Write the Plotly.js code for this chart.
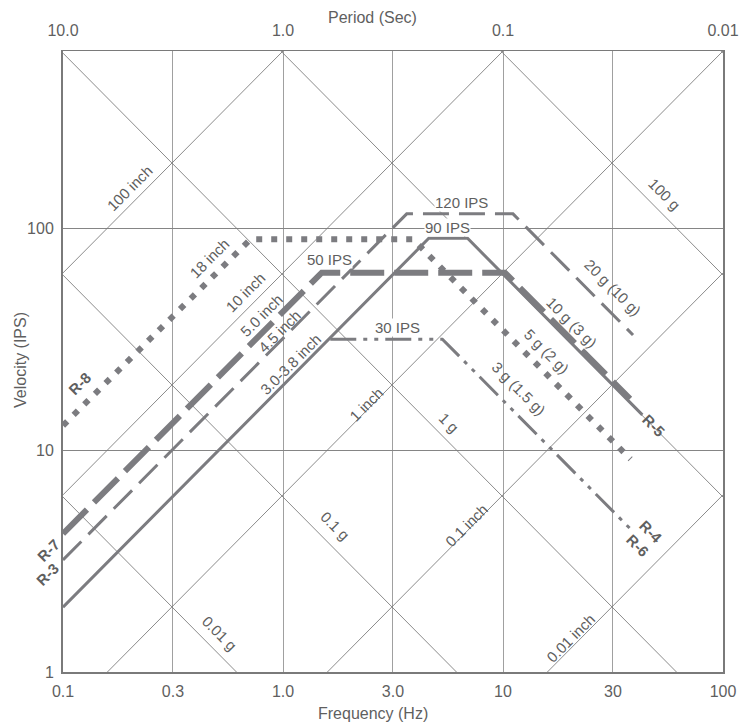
<!DOCTYPE html>
<html>
<head>
<meta charset="utf-8">
<script src="https://cdn.plot.ly/plotly-3.0.1.min.js"></script>
<style>
  html, body { margin: 0; padding: 0; background: #ffffff; }
  #chart { width: 754px; height: 723px; }
</style>
</head>
<body>
<div id="chart"></div>
<script>
// ---- Data ----
// Frequency ticks (Hz) – grid at decades and half-decades
const freqTickVals = [0.1, 0.3162, 1, 3.162, 10, 31.62, 100];
const freqTickText = ["0.1", "0.3", "1.0", "3.0", "10", "30", "100"];
const periodTickVals = [10, 1, 0.1, 0.01];
const periodTickText = ["10.0", "1.0", "0.1", "0.01"];
const velTickVals = [1, 10, 100];
const velTickText = ["1", "10", "100"];

// Tripartite diagonal grid values
const displacementInches = [0.01, 0.1, 1, 10, 100];
const accelerationG = [0.01, 0.1, 1, 10, 100, 1000];

// Series (corner points: frequency Hz, velocity IPS)
const freqR8 = [0.1, 0.71, 3.9, 38];
const velR8  = [12.9, 89, 89, 9.1];

const freqR5 = [0.1, 4.6, 6.9, 43];
const velR5  = [1.96, 90, 90, 14.4];

const freqR7 = [0.1, 1.5, 10.2, 37.8];
const velR7  = [4.2, 63, 63, 17];

const freqR3 = [0.1, 3.65, 11.1, 39];
const velR3  = [3.2, 116, 116, 33];

const freqR46 = [1.64, 5.3, 38.5];
const velR46  = [31.6, 31.6, 4.35];

// ---- Layout constants ----
const L = 63, R = 31, T = 51, B = 51, W = 754, H = 723;
const PW = W - L - R, PH = H - T - B;
const TWO_PI = 2 * Math.PI;
const G_IN = 386.09;
const VMAX = TWO_PI * 100;

const gridColor = '#7e7e7e';
const lineColor = '#7c7c80';
const textColor = '#5f5f5f';
const FONT = 'Liberation Sans, Arial, Helvetica, sans-serif';

const traces = [];

// diagonal displacement lines (slope +1)
displacementInches.forEach(d => {
  traces.push({
    x: [0.1, 100], y: [TWO_PI * 0.1 * d, TWO_PI * 100 * d],
    mode: 'lines', line: {color: gridColor, width: 0.9},
    hoverinfo: 'skip', showlegend: false
  });
});
// diagonal acceleration lines (slope -1)
accelerationG.forEach(a => {
  traces.push({
    x: [0.1, 100], y: [a * G_IN / (TWO_PI * 0.1), a * G_IN / (TWO_PI * 100)],
    mode: 'lines', line: {color: gridColor, width: 0.9},
    hoverinfo: 'skip', showlegend: false
  });
});

// data series
traces.push({x: freqR5, y: velR5, mode: 'lines', name: 'R-5',
  line: {color: lineColor, width: 3}, showlegend: false});
traces.push({x: freqR46, y: velR46, mode: 'lines', name: 'R-4 / R-6',
  line: {color: lineColor, width: 3, dash: '26px,7px,4px,7px,4px,7px'}, showlegend: false});
traces.push({x: freqR3, y: velR3, mode: 'lines', name: 'R-3',
  line: {color: lineColor, width: 3, dash: '26px,10px'}, showlegend: false});
traces.push({x: freqR7, y: velR7, mode: 'lines', name: 'R-7',
  line: {color: lineColor, width: 6, dash: '34px,10px'}, showlegend: false});
traces.push({x: freqR8, y: velR8, mode: 'lines', name: 'R-8',
  line: {color: lineColor, width: 6, dash: '6px,9px'}, showlegend: false});

// dummy trace to anchor the top period axis
traces.push({x: [1], y: [10], xaxis: 'x2', yaxis: 'y', mode: 'markers',
  marker: {opacity: 0}, hoverinfo: 'skip', showlegend: false});

// annotation helper from pixel position
function lab(text, px, py, angle, opts) {
  return Object.assign({
    text: text, xref: 'paper', yref: 'paper',
    x: (px - L) / PW, y: (H - B - py) / PH,
    xanchor: 'center', yanchor: 'middle',
    showarrow: false, textangle: angle,
    font: {family: FONT, size: 15, color: textColor}
  }, opts || {});
}
const bold = {font: {family: FONT, size: 15, color: textColor, weight: 'bold'}};
const wbg = {bgcolor: '#ffffff', borderpad: 0};
const axisFont = {family: FONT, size: 16, color: textColor};
const ttl = {font: axisFont};

const annotations = [
  lab('100 inch', 129, 188, -45),
  lab('18 inch', 209, 258, -45),
  lab('10 inch', 245, 292, -45),
  lab('5.0 inch', 261, 315, -45),
  lab('4.5 inch', 279, 331, -45),
  lab('3.0-3.8 inch', 290, 364, -45),
  lab('1 inch', 366, 404, -45),
  lab('0.1 inch', 466, 525, -45),
  lab('0.01 inch', 570, 638, -45),
  lab('100 g', 665, 194, 45),
  lab('1 g', 449, 422, 45),
  lab('0.1 g', 335, 525, 45),
  lab('0.01 g', 220, 633, 45),
  lab('50 IPS', 329, 259, 0, wbg),
  lab('120 IPS', 462, 203, 0, wbg),
  lab('90 IPS', 447, 227, 0, wbg),
  lab('30 IPS', 397, 327, 0, wbg),
  lab('20 g (10 g)', 613, 287, 45),
  lab('10 g (3 g)', 572, 322, 45),
  lab('5 g (2 g)', 547, 351, 45),
  lab('3 g (1.5 g)', 519, 388, 45),
  lab('R-8', 80, 384, -45, bold),
  lab('R-7', 48, 550, -45, bold),
  lab('R-3', 47, 574, -45, bold),
  lab('R-5', 654, 425, 45, bold),
  lab('R-4', 651, 531, 45, bold),
  lab('R-6', 638, 545, 45, bold),
  // axis titles
  lab('Period (Sec)', 372, 18, 0, ttl),
  lab('Frequency (Hz)', 373, 713, 0, ttl),
  lab('Velocity (IPS)', 20, 360, -90, ttl)
];

const layout = {
  width: W, height: H,
  margin: {l: L, r: R, t: T, b: B, pad: 0},
  paper_bgcolor: '#ffffff', plot_bgcolor: '#ffffff',
  showlegend: false,
  xaxis: {
    type: 'log', range: [-1, 2],
    tickvals: freqTickVals, ticktext: freqTickText,
    showgrid: true, gridcolor: '#a0a0a0', gridwidth: 1,
    showline: true, linecolor: '#7a7a7a', linewidth: 2,
    ticks: '', zeroline: false, tickfont: axisFont, ticklabelstandoff: 4,
    automargin: false
  },
  xaxis2: {
    type: 'log', range: [1, -2], overlaying: 'x', side: 'top',
    tickvals: periodTickVals, ticktext: periodTickText,
    showgrid: false, showline: true, linecolor: '#7a7a7a', linewidth: 1.5,
    ticks: '', zeroline: false, tickfont: axisFont, ticklabelstandoff: 7,
    automargin: false
  },
  yaxis: {
    type: 'log', range: [0, Math.log10(VMAX)],
    tickvals: velTickVals, ticktext: velTickText,
    showgrid: true, gridcolor: '#858585', gridwidth: 1,
    showline: true, linecolor: '#7a7a7a', linewidth: 2, mirror: true,
    ticks: '', zeroline: false, tickfont: axisFont, ticklabelstandoff: 4,
    automargin: false
  },
  annotations: annotations
};

Plotly.newPlot('chart', traces, layout, {staticPlot: true, displayModeBar: false});
</script>
</body>
</html>
